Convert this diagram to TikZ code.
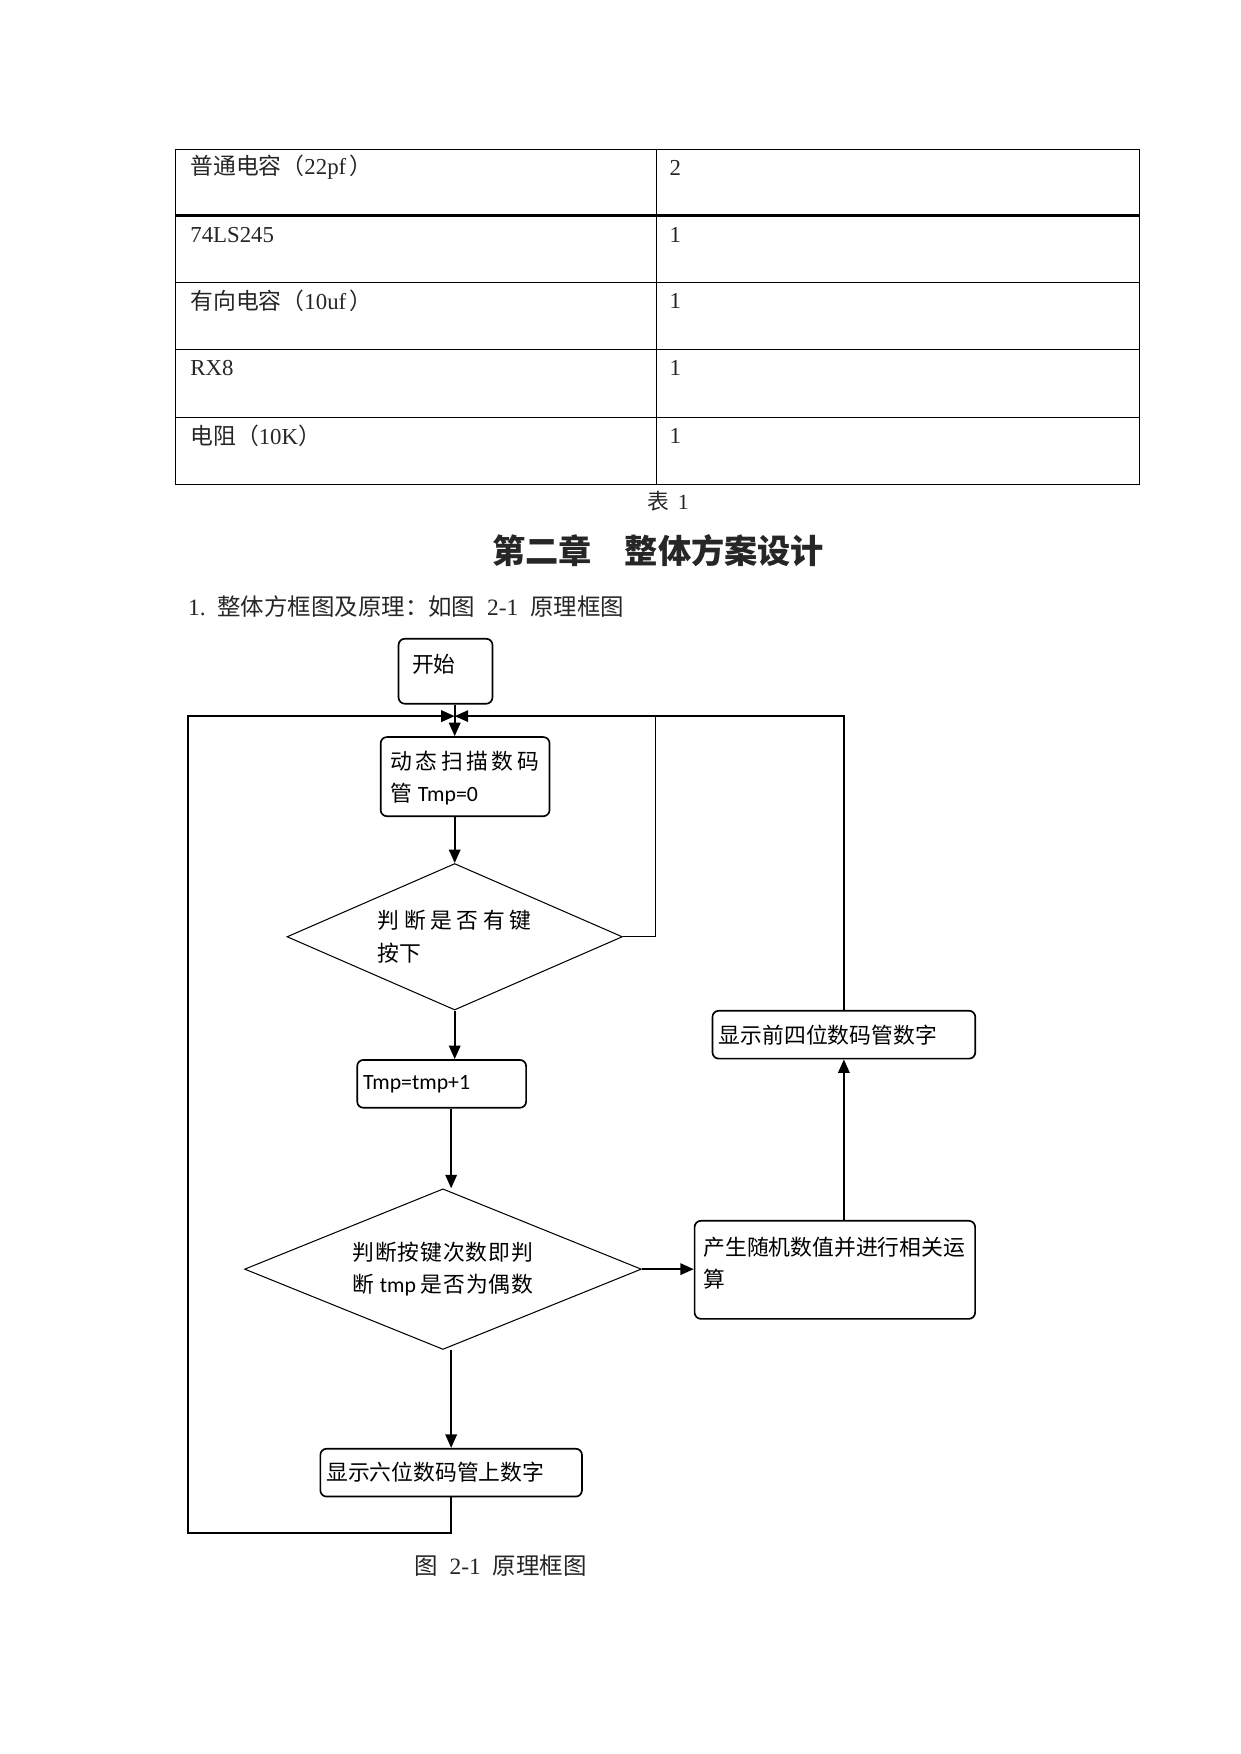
\documentclass[tikz,border=0pt]{standalone}
\usepackage{fontspec}
\setmainfont{Liberation Serif}
\newfontfamily\cjk{Noto Sans CJK SC}
\newfontfamily\cjksp{Noto Sans CJK SC}[LetterSpace=16]
\newfontfamily\cjkspw{Noto Sans CJK SC}[LetterSpace=21]
\newfontfamily\cjkspn{Noto Sans CJK SC}[LetterSpace=4]
\newfontfamily\lat{Carlito}
\newcommand{\zh}[1]{{\cjk #1}}
\newcommand{\boxtxt}[3]{\parbox[c][#2][t]{#1}{#3}}
\usetikzlibrary{positioning,shapes.geometric,arrows.meta}
\tikzset{
  stepbox/.style={rectangle, rounded corners=3pt, draw=black, line width=0.8pt, inner sep=0pt},
  judge/.style={diamond, draw=black, line width=0.5pt, inner sep=0pt, align=left},
  line/.style={draw, line width=1pt, ->},
  thinline/.style={draw, line width=0.5pt},
  grid/.style={draw, line width=0.5pt},
  txt/.style={inner sep=0pt, text=black!85},
  body/.style={txt, font=\fontsize{11.3}{15}\selectfont},
}

\begin{document}
\begin{tikzpicture}[x=0.18919mm, y=-0.18919mm, >={Triangle[length=6.5pt,width=5.5pt]},
  every node/.style={font=\fontsize{10.5}{15.5}\selectfont}]
  \useasboundingbox (0,0) rectangle (1110,1570);
  % table
  \foreach \y in {134,253,313,374,434} \draw[grid] (157,\y) -- (1020,\y);
  \draw[grid, line width=1.1pt] (157,193) -- (1020,193);
  \foreach \x in {157,588,1020} \draw[grid] (\x,134) -- (\x,434);
  \foreach \y/\t/\n [count=\i] in {150/{\zh{普通电容（}22pf\hspace{.15em}\zh{）}}/2, 210/74LS245/1,
      269/{\zh{有向电容（}10uf\hspace{.15em}\zh{）}}/1, 329/RX8/1, 390/{\zh{电阻（}10K\zh{）}}/1}{
    \node[txt, anchor=west, font=\fontsize{11}{14}\selectfont] (item\i) at (170,\y) {\t};
    \node[txt, anchor=west, font=\fontsize{11}{14}\selectfont] (qty\i) at (599,\y) {\n};
  }
  \node[txt] (tabcap) at (598,449) {\zh{表}\hspace{.4em}1};
  \node[txt, font=\fontsize{16}{20}\selectfont\bfseries] (chap) at (589,493) {\zh{第二章　整体方案设计}};
  \node[body, anchor=west] (sec) at (168,543)
    {1.\hspace{.5em}\zh{整体方框图及原理：如图}\hspace{.5em}2-1\hspace{.5em}\zh{原理框图}};

  % flow chart
  \node[stepbox, anchor=north west, inner xsep=2.3mm, inner ysep=2.6mm] (start) at (356,571)
    {\boxtxt{11.3mm}{5.8mm}{\zh{开始}}};
  \node[stepbox, anchor=north west, inner xsep=1.7mm, inner ysep=2.4mm] (dyn) at (340,659)
    {\boxtxt{25.2mm}{8.6mm}{{\cjksp 动态扫描数码}\\\zh{管} \lat{Tmp=0}}};
  \node[judge, minimum width=56.8mm, minimum height=24.8mm, aspect=2.29] (dia1) at (407,838.5)
    {{\cjkspw 判断是否有键}\\\zh{按下}};
  \node[stepbox, anchor=north west, inner xsep=1mm, minimum height=8.1mm, text width=26.6mm, align=left] (tmp) at (319,948)
    {\lat{Tmp=tmp+1}};
  \node[judge, minimum width=67.2mm, minimum height=27.2mm, aspect=2.47] (dia2) at (396.5,1136)
    {{\cjkspn 判断按键次数即判}\\{\cjkspn 断} \lat{tmp} {\cjkspn 是否为偶数}};
  \node[stepbox, anchor=north west, inner xsep=1mm, minimum height=8.1mm, text width=42.3mm, align=left] (six) at (286,1296)
    {\zh{显示六位数码管上数字}};
  \node[stepbox, anchor=north west, inner xsep=1.5mm, inner ysep=2.8mm] (gen) at (621,1092)
    {\boxtxt{44.5mm}{11mm}{\zh{产生随机数值并进行相关运}\\\zh{算}}};
  \node[stepbox, anchor=north west, inner xsep=1.1mm, minimum height=8.1mm, text width=42.3mm, align=left] (four) at (637,904)
    {\zh{显示前四位数码管数字}};
  \node[body] (figcap) at (448,1401) {\zh{图}\hspace{.5em}2-1\hspace{.5em}\zh{原理框图}};

  \coordinate (join) at (407,641);
  \coordinate (rtop) at (587,641);
  \coordinate (corner) at (168,1372);

  \draw[line] (start.south -| join) -- (dyn.north -| join);
  \draw[line] (dyn.south -| dia1) -- (dia1.north);
  \draw[line] (dia1.south) -- (tmp.north -| dia1);
  \draw[line] (tmp.south -| six) -- (dia2.north -| six);
  \draw[line] (dia2.south -| six) -- (six.north);
  \draw[line] (dia2.east) -- (gen.west |- dia2.east);
  \draw[line] (gen.north -| four) -- (four.south);
  \draw[line] (four.north) |- (join);
  \draw[line] (six.south) |- (corner) |- (join);
  \draw[thinline] (dia1.east) -| (rtop);
\end{tikzpicture}
\end{document}
